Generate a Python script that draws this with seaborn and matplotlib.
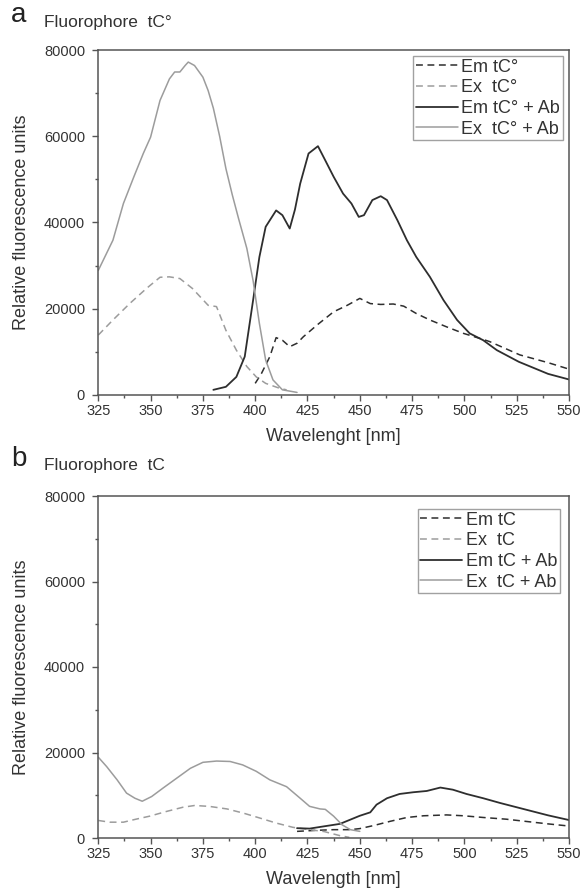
import numpy as np
import pandas as pd
import seaborn as sns
import matplotlib
matplotlib.use('Agg')
import matplotlib.pyplot as plt
from matplotlib.ticker import MultipleLocator

# panel a : fluorophore tC°
em_a_x = [400, 403, 407, 410, 413, 416.5, 420, 423, 429.5, 437.5, 444, 450, 455, 460, 466,
          471, 477, 483.5, 491.5, 499.5, 507.5, 512, 526.5, 540, 550]
em_a_y = [2700, 5000, 8900, 13300, 12700, 11200, 12000, 13500, 16200, 19300, 20800, 22400, 21200,
          21000, 21100, 20600, 18900, 17400, 15800, 14300, 13100, 12400, 9300, 7500, 6000]

ex_a_x = [325, 332, 340, 348, 354.5, 359, 364, 370, 377.5, 381.5, 386, 391, 396, 400.5, 405, 412, 415]
ex_a_y = [13900, 17400, 21200, 24700, 27300, 27400, 27000, 24700, 20800, 20500, 15000, 10400,
          6600, 4200, 2700, 1500, 1200]

em_ab_a_x = [380, 386, 391, 395, 399, 402, 405, 410, 413, 416.5, 419, 421.5, 425.5, 430, 433.5,
             437.5, 442, 446, 449.5, 452, 456, 460, 463, 468, 472.5, 477, 483.5, 490, 496.5,
             502.5, 509, 515.5, 526, 533, 540, 550]
em_ab_a_y = [1200, 1900, 4200, 8900, 22000, 32000, 39000, 42800, 41700, 38600, 43000, 49000,
             56000, 57700, 54400, 50600, 46700, 44400, 41300, 41700, 45200, 46100, 45200, 40500,
             35900, 32000, 27400, 22000, 17400, 14300, 12700, 10400, 7700, 6300, 4900, 3600]

ex_ab_a_x = [325, 332, 337, 342, 346.5, 350, 354.5, 359, 361.5, 364, 366.5, 368, 371, 375, 377.5,
             380, 383, 386, 389, 392, 396, 399, 402, 405, 408.5, 413, 420]
ex_ab_a_y = [28900, 35900, 44400, 50600, 56000, 59800, 68300, 73300, 74900, 74900, 76400, 77200,
             76400, 73700, 70600, 66500, 60000, 52500, 46500, 41000, 34000, 26500, 16600, 8100,
             3500, 1200, 600]

# panel b : fluorophore tC
em_b_x = [420, 429.5, 437.5, 445.5, 450, 456.5, 464.5, 472.5, 480.5, 491.5, 499.5, 509, 520, 540, 550]
em_b_y = [1550, 1800, 1950, 1950, 2200, 2900, 3900, 4800, 5200, 5400, 5200, 4800, 4400, 3300, 2800]

ex_b_x = [325, 330.5, 337, 343, 349.5, 357.5, 365.5, 371, 378, 386.5, 394.5, 402, 410, 418, 426,
          433, 440.5, 445]
ex_b_y = [4100, 3700, 3700, 4400, 5100, 6200, 7200, 7600, 7400, 6800, 5800, 4700, 3500, 2500,
          1950, 1500, 550, 150]

em_ab_b_x = [420, 426, 432.5, 440.5, 445.5, 450, 455, 458, 463, 469, 475.5, 482, 488.5, 494.5,
             501, 509, 517, 526.5, 540, 550]
em_ab_b_y = [2300, 2200, 2700, 3300, 4300, 5200, 6000, 7800, 9300, 10300, 10700, 11000, 11800,
             11300, 10300, 9300, 8200, 7000, 5300, 4200]

ex_ab_b_x = [325, 329, 334, 338.5, 342.5, 346, 350.5, 356, 362.5, 369, 375, 381.5, 388, 394,
             400.5, 407, 415, 421.5, 426, 431, 433.5, 437.5, 441.5, 445.5, 450]
ex_ab_b_y = [18900, 16700, 13600, 10500, 9300, 8600, 9700, 11700, 14000, 16300, 17700, 18000,
             17900, 17100, 15600, 13600, 12000, 9300, 7400, 6800, 6700, 5100, 3100, 1950, 1550]

labels_a = ['Em tC°', 'Ex  tC°', 'Em tC° + Ab', 'Ex  tC° + Ab']
labels_b = ['Em tC', 'Ex  tC', 'Em tC + Ab', 'Ex  tC + Ab']

DARK = '#2e2e2e'
GRAY = '#9c9c9c'
AXC = '#555555'
TXT = '#333333'

sns.set_style('ticks')
plt.rcParams['font.family'] = ['Liberation Sans', 'DejaVu Sans']

W, H = 582, 894
fig = plt.figure(figsize=(W / 100, H / 100), dpi=100)
fig.patch.set_facecolor('white')


def draw_panel(ax, series, labels, xlabel, leg_anchor):
    frames = []
    for (xs, ys), lab in zip(series, labels):
        frames.append(pd.DataFrame({'wl': xs, 'val': ys, 'series': lab}))
    df = pd.concat(frames, ignore_index=True)
    palette = dict(zip(labels, [DARK, GRAY, DARK, GRAY]))
    dashes = dict(zip(labels, [(4.5, 3), (4.5, 3), '', '']))
    sns.lineplot(data=df, x='wl', y='val', hue='series', style='series',
                 hue_order=labels, style_order=labels, palette=palette, dashes=dashes,
                 estimator=None, sort=False, legend=False, linewidth=1.1, ax=ax)
    # the solid dark emission line is a touch heavier
    ax.lines[2].set_linewidth(1.3)

    ax.set_xlim(325, 550)
    ax.set_ylim(0, 80000)
    ax.xaxis.set_major_locator(MultipleLocator(25))
    ax.xaxis.set_minor_locator(MultipleLocator(12.5))
    ax.yaxis.set_major_locator(MultipleLocator(20000))
    ax.yaxis.set_minor_locator(MultipleLocator(10000))
    ax.tick_params(which='major', direction='out', length=4.5, width=1.0, color=AXC,
                   labelsize=10.5, labelcolor=TXT)
    ax.tick_params(which='minor', direction='out', length=2.2, width=1.0, color=AXC)
    ax.tick_params(axis='x', which='major', pad=2)
    ax.tick_params(axis='y', which='major', pad=5)
    for sp in ax.spines.values():
        sp.set_visible(True)
        sp.set_color(AXC)
        sp.set_linewidth(1.1)
    ax.set_xlabel(xlabel, fontsize=13, color=TXT, labelpad=7)
    ax.set_ylabel('Relative fluorescence units', fontsize=13, color=TXT, labelpad=10)

    leg = ax.legend(handles=list(ax.lines), labels=labels, loc='upper right',
                    bbox_to_anchor=leg_anchor, borderaxespad=0, frameon=True, fancybox=False,
                    fontsize=13, handlelength=2.3, handletextpad=0.2, labelspacing=0.2,
                    borderpad=0.15, labelcolor=TXT)
    leg.get_frame().set_edgecolor('#8a8a8a')
    leg.get_frame().set_linewidth(1.0)


ax_a = fig.add_axes([98.3 / W, 1 - 395 / H, 470.7 / W, 345 / H])
draw_panel(ax_a,
           [(em_a_x, em_a_y), (ex_a_x, ex_a_y), (em_ab_a_x, em_ab_a_y), (ex_ab_a_x, ex_ab_a_y)],
           labels_a, 'Wavelenght [nm]', (0.9866, 0.9826))

ax_b = fig.add_axes([98.3 / W, 1 - 838 / H, 470.7 / W, 342 / H])
draw_panel(ax_b,
           [(em_b_x, em_b_y), (ex_b_x, ex_b_y), (em_ab_b_x, em_ab_b_y), (ex_ab_b_x, ex_ab_b_y)],
           labels_b, 'Wavelength [nm]', (0.980, 0.962))

# panel letters and titles
fig.text(11 / W, 1 - 22 / H, 'a', fontsize=20, color='#222222', va='baseline')
fig.text(44 / W, 1 - 27 / H, 'Fluorophore  tC°', fontsize=12.5, color=TXT, va='baseline')
fig.text(11 / W, 1 - 466 / H, 'b', fontsize=20, color='#222222', va='baseline')
fig.text(44 / W, 1 - 470 / H, 'Fluorophore  tC', fontsize=12.5, color=TXT, va='baseline')

fig.savefig('out.png', dpi=100)
